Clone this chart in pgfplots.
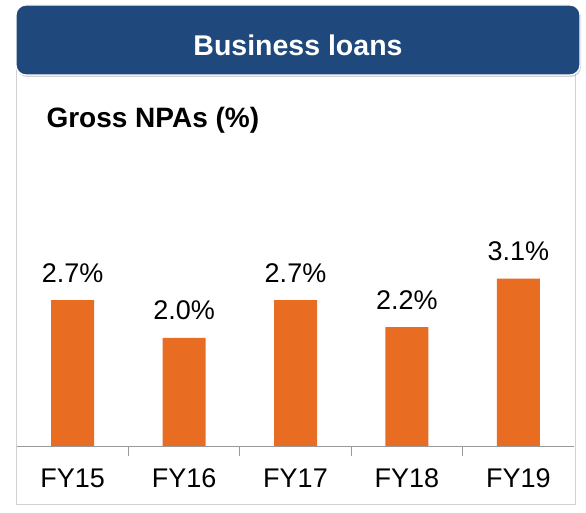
\documentclass[border=0pt]{standalone}
\usepackage{pgfplots}
\pgfplotsset{compat=1.18}
\usepackage{fontspec}
\setmainfont{Liberation Sans}
\usetikzlibrary{shadows}
\definecolor{hdrblue}{RGB}{31,73,125}
\definecolor{barorange}{RGB}{233,108,35}
\begin{document}
\begin{tikzpicture}[x=1pt,y=1pt]
\path[use as bounding box] (0,0) rectangle (586,513);
% outer frame
\draw[draw=black!18, line width=1pt, fill=white] (16.5,8) rectangle (575,460);
% header
\fill[hdrblue, rounded corners=10pt, draw=white, line width=1.2pt,
  drop shadow={opacity=0.35, shadow xshift=1pt, shadow yshift=-2pt}]
  (16,438) rectangle (580,508);
\node[anchor=base, text=white, font=\bfseries\fontsize{28.5}{30}\selectfont] at (298,457) {Business loans};
\node[anchor=base west, font=\bfseries\fontsize{28}{30}\selectfont] at (43,385) {Gross NPAs (\%)};
\begin{axis}[
  at={(17pt,67pt)}, anchor=south west,
  scale only axis, width=557pt, height=270pt,
  xmin=-0.5, xmax=4.5, ymin=0, ymax=5,
  axis y line=none, axis x line*=bottom,
  x axis line style={-, draw=black!40, line width=0.8pt},
  xtick={0,1,2,3,4},
  xticklabels={FY15,FY16,FY17,FY18,FY19},
  major tick length=0pt,
  extra x ticks={0.5,1.5,2.5,3.5},
  extra x tick labels={},
  extra x tick style={major tick length=10pt, tick align=outside, tick style={draw=black!40, line width=0.8pt}},
  xticklabel style={font=\fontsize{27}{29}\selectfont, anchor=base, yshift=-42pt},
  /pgf/number format/assume math mode=true,
  ybar, bar width=43pt,
  clip=false,
  nodes near coords={\pgfmathprintnumber[fixed,fixed zerofill,precision=1]{\pgfplotspointmeta}\%},
  every node near coord/.append style={font=\fontsize{27}{29}\selectfont, anchor=base, yshift=18pt, black},
]
\addplot[fill=barorange, draw=none] coordinates {(0,2.7) (1,2.0) (2,2.7) (3,2.2) (4,3.1)};
\end{axis}
\end{tikzpicture}
\end{document}
